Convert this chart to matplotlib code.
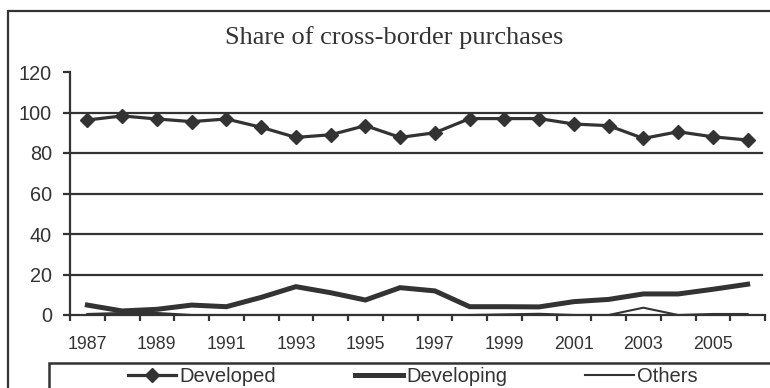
import matplotlib.pyplot as plt
from matplotlib.patches import Rectangle
from matplotlib.lines import Line2D

# Series (% of cross-border purchases)
years = list(range(1987, 2007))
developed = [96.3, 98.3, 96.8, 95.5, 96.8, 92.7, 87.7, 89.0, 93.5, 87.7,
             90.0, 97.0, 97.0, 97.0, 94.3, 93.5, 87.2, 90.5, 88.0, 86.4]
developing = [4.9, 2.0, 2.8, 4.9, 4.1, 8.7, 14.0, 11.0, 7.4, 13.5,
              11.9, 4.1, 4.1, 4.0, 6.6, 7.7, 10.4, 10.4, 12.7, 15.2]
others = [0.5, 1.0, 1.0, 0.0, 0.0, 0.0, 0.0, 0.0, 0.0, 0.0,
          0.0, 0.0, 0.3, 0.6, 0.0, 0.0, 3.6, 0.0, 0.5, 0.5]
yticks = [0, 20, 40, 60, 80, 100, 120]
title = "Share of cross-border purchases"

ink = "#333333"
W, H = 770, 388

plt.rcParams['font.family'] = ['Liberation Sans', 'DejaVu Sans']

fig = plt.figure(figsize=(W / 100, H / 100), dpi=100)
fig.patch.set_facecolor("white")

# outer chart frame
fig.patches.append(Rectangle((8 / W, -0.1), 1.1, (H - 11) / H + 0.1,
                             transform=fig.transFigure, fill=False,
                             edgecolor=ink, linewidth=1.6))

ax = fig.add_axes([70 / W, (H - 315) / H, 695 / W, 243 / H])
x = list(range(len(years)))

ax.plot(x, developing, color=ink, lw=3.6, solid_joinstyle="miter", zorder=3)
ax.plot(x, others, color=ink, lw=1.5, zorder=3)
ax.plot(x, developed, color=ink, lw=2.3, marker="D", markersize=7.5, zorder=4)

ax.set_xlim(-0.5, len(years) - 0.5)
ax.set_ylim(0, 120)
ax.set_yticks(yticks)
ax.set_yticklabels([str(v) for v in yticks], fontsize=14.3, color=ink)
for v in yticks[1:-1]:
    ax.axhline(v, xmin=0, xmax=0.995, color=ink, lw=1.6, zorder=1)

# category-boundary ticks with labels centred on every other year
ax.set_xticks([i - 0.5 for i in range(len(years) + 1)])
ax.set_xticklabels([])
ax.set_xticks(x[::2], minor=True)
ax.set_xticklabels([str(y) for y in years[::2]], minor=True, fontsize=12.8, color=ink)
ax.tick_params(axis="x", which="minor", length=0, pad=15)
ax.tick_params(axis="x", which="major", length=4, width=1.6, color=ink)
ax.tick_params(axis="y", length=5, width=1.6, color=ink, pad=8)

for s in ["top", "right"]:
    ax.spines[s].set_visible(False)
for s in ["left", "bottom"]:
    ax.spines[s].set_color(ink)
    ax.spines[s].set_linewidth(1.6)

fig.text(394 / W, 1 - 38 / H, title, family="Liberation Serif", fontsize=19,
         color=ink, ha="center", va="center")

# legend box along the bottom edge
fig.patches.append(Rectangle((49 / W, -0.1), 1.1, (H - 363) / H + 0.1,
                             transform=fig.transFigure, fill=False,
                             edgecolor=ink, linewidth=1.8))
handles = [Line2D([], [], color=ink, lw=2.3, marker="D", markersize=7.5),
           Line2D([], [], color=ink, lw=3.6),
           Line2D([], [], color=ink, lw=1.5)]
fig.legend(handles, ["Developed", "Developing", "Others"], ncol=3,
           loc="center left", bbox_to_anchor=(128 / W, 1 - 377 / H),
           frameon=False, fontsize=14.5, handlelength=2.4, handletextpad=0.15,
           columnspacing=3.9, labelcolor=ink, borderpad=0, borderaxespad=0)

fig.savefig("out.png", dpi=100)
